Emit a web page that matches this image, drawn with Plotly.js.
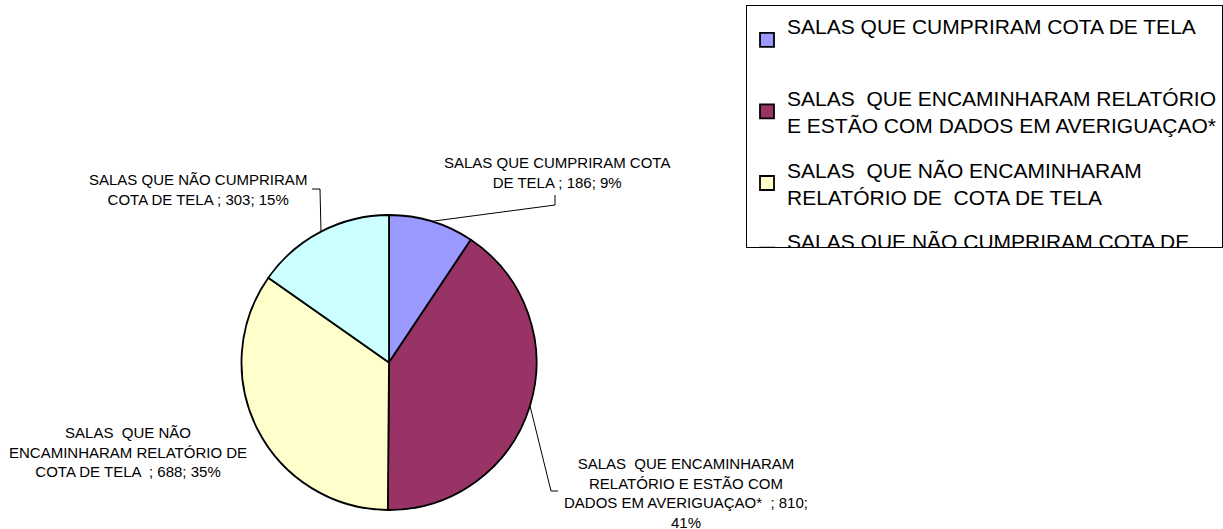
<!DOCTYPE html>
<html>
<head>
<meta charset="utf-8">
<script src="https://cdn.plot.ly/plotly-3.0.1.min.js"></script>
<style>html,body{margin:0;padding:0;background:#fff;}#chart{width:1223px;height:529px;}</style>
</head>
<body>
<div id="chart"></div>
<script>
// ---- data ----
var categories = [
  "SALAS QUE CUMPRIRAM COTA DE TELA",
  "SALAS  QUE ENCAMINHARAM RELATÓRIO E ESTÃO COM DADOS EM AVERIGUAÇAO*",
  "SALAS  QUE NÃO ENCAMINHARAM RELATÓRIO DE  COTA DE TELA",
  "SALAS QUE NÃO CUMPRIRAM COTA DE TELA"
];
var values = [186, 810, 688, 303];
var percentLabels = ["9%", "41%", "35%", "15%"];
var legendLabels = [
  "SALAS QUE CUMPRIRAM COTA DE TELA<br> ",
  "SALAS  QUE ENCAMINHARAM RELATÓRIO<br>E ESTÃO COM DADOS EM AVERIGUAÇAO*",
  "SALAS  QUE NÃO ENCAMINHARAM<br>RELATÓRIO DE  COTA DE TELA",
  "SALAS QUE NÃO CUMPRIRAM COTA DE<br>TELA"
];
var sliceLabelText = [
  "SALAS QUE CUMPRIRAM COTA<br>DE TELA ; 186; 9%",
  "SALAS  QUE ENCAMINHARAM<br>RELATÓRIO E ESTÃO COM<br>DADOS EM AVERIGUAÇAO*  ; 810;<br>41%",
  "SALAS  QUE NÃO<br>ENCAMINHARAM RELATÓRIO DE<br>COTA DE TELA  ; 688; 35%",
  "SALAS QUE NÃO CUMPRIRAM<br>COTA DE TELA ; 303; 15%"
];
var colors = ["#9999FF", "#993366", "#FFFFCC", "#CCFFFF"];

// ---- layout constants ----
var W = 1223, H = 529;
var CX = 389, CY = 362.5, R = 147.5;
function px(x){ return x / W; }
function py(y){ return 1 - y / H; }

// slice mid-angles from data (clockwise from 12 o'clock)
var total = values.reduce(function(a,b){return a+b;}, 0);
var cum = 0, edge = [];
values.forEach(function(v){
  var mid = (cum + v/2) / total * 2 * Math.PI;
  edge.push([CX + R*Math.sin(mid), CY - R*Math.cos(mid)]);
  cum += v;
});

// label positions (pixels) and leader bends
var labelPos = [[557, 172], [686, 493], [128, 452], [198, 189]];
var leaderPts = [
  [[555, 205], [555, 195]],
  [[551, 491], [558, 491]],
  null,
  [[320, 189], [312, 189]]
];

var traces = [{
  type: 'pie',
  values: values,
  labels: categories,
  sort: false,
  direction: 'clockwise',
  rotation: 0,
  textinfo: 'none',
  hoverinfo: 'skip',
  showlegend: false,
  marker: { colors: colors, line: { color: '#000000', width: 1.8 } },
  domain: { x: [px(CX - R), px(CX + R)], y: [py(CY + R), py(CY - R)] }
}];
legendLabels.forEach(function(lbl, i){
  traces.push({
    type: 'scatter', mode: 'markers', x: [null], y: [null],
    name: lbl, legendgroup: 'g' + i, showlegend: true, hoverinfo: 'skip',
    marker: { symbol: 'square', size: 14, color: colors[i], line: { color: '#000000', width: 1.8 } }
  });
});

var annotations = sliceLabelText.map(function(t, i){
  return {
    xref: 'paper', yref: 'paper', x: px(labelPos[i][0]), y: py(labelPos[i][1]),
    xanchor: 'center', yanchor: 'middle', align: 'center', showarrow: false,
    text: t, font: { family: 'Liberation Sans, Arial, sans-serif', size: 15, color: '#000' }
  };
});

var shapes = [];
leaderPts.forEach(function(pts, i){
  if (!pts) return;
  var all = [edge[i]].concat(pts);
  var d = all.map(function(p, k){ return (k ? 'L' : 'M') + px(p[0]) + ',' + py(p[1]); }).join(' ');
  shapes.push({ type: 'path', xref: 'paper', yref: 'paper', path: d, line: { color: '#000', width: 1 } });
});

var layout = {
  width: W, height: H,
  margin: { l: 0, r: 0, t: 0, b: 0, pad: 0 },
  paper_bgcolor: '#ffffff', plot_bgcolor: '#ffffff',
  font: { family: 'Liberation Sans, Arial, sans-serif', color: '#000' },
  xaxis: { visible: false, showgrid: false, zeroline: false },
  yaxis: { visible: false, showgrid: false, zeroline: false },
  hovermode: false,
  showlegend: true,
  legend: {
    x: 1, xanchor: 'right', y: py(5), yanchor: 'top',
    bgcolor: '#ffffff', bordercolor: '#000000', borderwidth: 1,
    font: { family: 'Liberation Sans, Arial, sans-serif', size: 21, color: '#000' },
    traceorder: 'grouped', tracegroupgap: 14,
    maxheight: 243
  },
  annotations: annotations,
  shapes: shapes
};

Plotly.newPlot('chart', traces, layout, { staticPlot: true, displayModeBar: false });
</script>
</body>
</html>
